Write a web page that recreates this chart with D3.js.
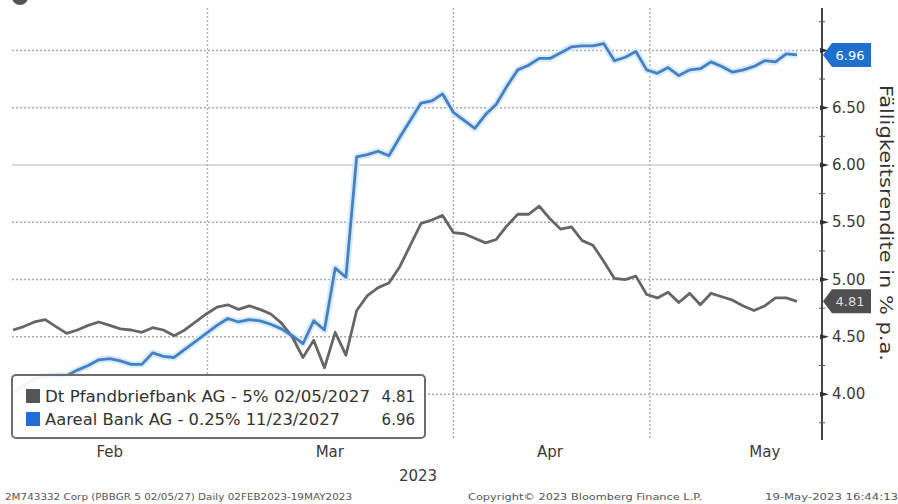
<!DOCTYPE html>
<html>
<head>
<meta charset="utf-8">
<script src="https://d3js.org/d3.v7.min.js"></script>
<style>
  body { margin: 0; background: #fff; }
  svg { display: block; font-family: "DejaVu Sans", sans-serif; }
</style>
</head>
<body>
<svg id="chart"></svg>
<script>
// Daily yields, trading days 02 Feb 2023 - 19 May 2023
var pbbYield = [4.56, 4.59, 4.63, 4.65, 4.59, 4.53, 4.56, 4.60, 4.63, 4.60,
    4.57, 4.56, 4.54, 4.58, 4.56, 4.51, 4.56, 4.63, 4.70, 4.76,
    4.78, 4.74, 4.77, 4.74, 4.70, 4.62, 4.50, 4.32, 4.47, 4.23,
    4.54, 4.34, 4.73, 4.86, 4.93, 4.97, 5.11, 5.30, 5.49, 5.52,
    5.56, 5.41, 5.40, 5.36, 5.32, 5.35, 5.47, 5.57, 5.57, 5.64,
    5.53, 5.44, 5.46, 5.34, 5.30, 5.16, 5.01, 5.00, 5.03, 4.87,
    4.84, 4.89, 4.80, 4.88, 4.78, 4.88, 4.85, 4.82, 4.77, 4.73,
    4.77, 4.84, 4.84, 4.81];

var aarealYield = [4.01, 4.07, 4.14, 4.15, 4.16, 4.16, 4.21, 4.25, 4.30, 4.31,
    4.29, 4.26, 4.26, 4.36, 4.33, 4.32, 4.39, 4.46, 4.53, 4.60,
    4.66, 4.63, 4.65, 4.64, 4.61, 4.57, 4.51, 4.44, 4.64, 4.56,
    5.10, 5.02, 6.07, 6.09, 6.12, 6.08, 6.24, 6.39, 6.54, 6.56,
    6.62, 6.46, 6.39, 6.32, 6.44, 6.53, 6.69, 6.83, 6.87, 6.93,
    6.93, 6.98, 7.03, 7.04, 7.04, 7.06, 6.91, 6.94, 6.99, 6.83,
    6.80, 6.85, 6.78, 6.83, 6.84, 6.90, 6.86, 6.81, 6.83, 6.86,
    6.91, 6.90, 6.97, 6.96];

var seriesNames = ["Dt Pfandbriefbank AG  - 5% 02/05/2027", "Aareal Bank AG - 0.25% 11/23/2027"];
var lastValues = ["4.81", "6.96"];

var monthLabels = ["Feb", "Mar", "Apr", "May"];
var monthLabelPos = [9, 29.5, 50, 70];      // trading-day index
var monthBreaks = [18.1, 41, 59.3];          // trading-day index
var yGrid = [4.0, 4.5, 5.0, 5.5, 6.0, 6.5, 7.0];
var yLabels = [4.0, 4.5, 5.0, 5.5, 6.0, 6.5];
var yMinor = [3.75, 4.25, 4.75, 5.25, 5.75, 6.25, 6.75, 7.25];

var width = 898;
var height = 504;

var svg = d3.select("#chart").attr("width", width).attr("height", height);

var x = d3.scaleLinear().domain([0, pbbYield.length - 1]).range([13, 797]);
var y = d3.scaleLinear().domain([3.6, 7.37]).range([440, 8]);

var axisX = 822;

// top strip, cropped header
svg.append("circle").attr("cx", 20).attr("cy", -3).attr("r", 8).attr("fill", "#555");

// horizontal gridlines
svg.selectAll(".hgrid")
    .data(yGrid)
    .enter().append("line")
    .attr("class", "hgrid")
    .attr("x1", 12).attr("x2", axisX)
    .attr("y1", function (d) { return y(d); })
    .attr("y2", function (d) { return y(d); })
    .attr("stroke", "#aaaaaa")
    .attr("stroke-width", 1.5)
    .attr("stroke-dasharray", function (d) { return d === 6.0 ? null : "2,2"; })
    .attr("stroke-opacity", function (d) { return d === 6.0 ? 0.6 : 1; });

// vertical month gridlines
svg.selectAll(".vgrid")
    .data(monthBreaks)
    .enter().append("line")
    .attr("class", "vgrid")
    .attr("x1", function (d) { return x(d); })
    .attr("x2", function (d) { return x(d); })
    .attr("y1", 8).attr("y2", 438)
    .attr("stroke", "#b4b4b4")
    .attr("stroke-width", 1.5)
    .attr("stroke-dasharray", "2,2");

// lines
var line = d3.line()
    .x(function (d, i) { return x(i); })
    .y(function (d) { return y(d); });

svg.append("path").datum(aarealYield)
    .attr("d", line).attr("fill", "none")
    .attr("stroke", "#d6ebfb").attr("stroke-width", 7).attr("stroke-linejoin", "round");
svg.append("path").datum(pbbYield)
    .attr("d", line).attr("fill", "none")
    .attr("stroke", "#666666").attr("stroke-width", 2.8).attr("stroke-linejoin", "round");
svg.append("path").datum(aarealYield)
    .attr("d", line).attr("fill", "none")
    .attr("stroke", "#4680c2").attr("stroke-width", 2.8).attr("stroke-linejoin", "round");

// right axis
svg.append("line")
    .attr("x1", axisX).attr("x2", axisX).attr("y1", 8).attr("y2", 440)
    .attr("stroke", "#333").attr("stroke-width", 1.8);

svg.selectAll(".minor")
    .data(yMinor)
    .enter().append("line")
    .attr("x1", axisX - 3).attr("x2", axisX + 3)
    .attr("y1", function (d) { return y(d); })
    .attr("y2", function (d) { return y(d); })
    .attr("stroke", "#555").attr("stroke-width", 1);

svg.selectAll(".major")
    .data(yGrid)
    .enter().append("path")
    .attr("d", function (d) {
        var yy = y(d);
        return "M" + (axisX - 2) + "," + (yy - 2.5) + "L" + (axisX + 7) + "," + yy + "L" + (axisX - 2) + "," + (yy + 2.5) + "Z";
    })
    .attr("fill", "#333");

svg.selectAll(".ylab")
    .data(yLabels)
    .enter().append("text")
    .attr("x", 832)
    .attr("y", function (d) { return y(d) + 5; })
    .attr("font-size", 15)
    .attr("fill", "#3a3a3a")
    .text(function (d) { return d.toFixed(2); });

svg.append("text")
    .attr("transform", "translate(880,223) rotate(90)")
    .attr("text-anchor", "middle")
    .attr("font-size", 17)
    .attr("fill", "#333")
    .attr("textLength", 276)
    .attr("lengthAdjust", "spacingAndGlyphs")
    .text("Fälligkeitsrendite in % p.a.");

// last value tags
var tagColors = ["#4f4f4f", "#1f6fcf"];
var tagValues = [pbbYield[pbbYield.length - 1], aarealYield[aarealYield.length - 1]];
tagValues.forEach(function (v, i) {
    var yy = y(v);
    svg.append("path")
        .attr("d", "M" + (axisX + 1) + "," + yy + "L" + (axisX + 10) + "," + (yy - 12) + "L" + 871 + "," + (yy - 12) +
            "L" + 871 + "," + (yy + 12) + "L" + (axisX + 10) + "," + (yy + 12) + "Z")
        .attr("fill", tagColors[i]);
    svg.append("text")
        .attr("x", 850).attr("y", yy + 5)
        .attr("text-anchor", "middle")
        .attr("font-size", 13)
        .attr("fill", i === 0 ? "#dddddd" : "#ffffff")
        .text(lastValues[i]);
});

// month labels
svg.selectAll(".mlab")
    .data(monthLabels)
    .enter().append("text")
    .attr("x", function (d, i) { return x(monthLabelPos[i]); })
    .attr("y", 457)
    .attr("text-anchor", "middle")
    .attr("font-size", 15)
    .attr("fill", "#3a3a3a")
    .text(function (d) { return d; });

svg.append("text")
    .attr("x", 418).attr("y", 481)
    .attr("text-anchor", "middle")
    .attr("font-size", 15)
    .attr("fill", "#3a3a3a")
    .text("2023");

// legend
var legend = svg.append("g");
legend.append("rect")
    .attr("x", 12).attr("y", 375).attr("width", 413).attr("height", 63)
    .attr("rx", 4)
    .attr("fill", "#ffffff").attr("fill-opacity", 0.92)
    .attr("stroke", "#6d6d6d").attr("stroke-width", 2);

var legendColors = ["#555555", "#1f6fd6"];
seriesNames.forEach(function (name, i) {
    var yy = 397 + i * 23;
    legend.append("rect")
        .attr("x", 26).attr("y", yy - 8).attr("width", 14).attr("height", 14)
        .attr("fill", legendColors[i]);
    legend.append("text")
        .attr("x", 45).attr("y", yy + 5)
        .attr("font-size", 15)
        .attr("fill", "#333")
        .attr("textLength", i === 0 ? 325 : 295)
        .attr("lengthAdjust", "spacingAndGlyphs")
        .text(name);
    legend.append("text")
        .attr("x", 415).attr("y", yy + 5)
        .attr("text-anchor", "end")
        .attr("font-size", 15)
        .attr("fill", "#333")
        .text(lastValues[i]);
});

// footer
var footer = [
    { text: "2M743332 Corp (PBBGR 5 02/05/27)  Daily 02FEB2023-19MAY2023", x: 5, len: 347 },
    { text: "Copyright© 2023 Bloomberg Finance L.P.", x: 468, len: 234 },
    { text: "19-May-2023 16:44:13", x: 765, len: 133 }
];
svg.selectAll(".foot")
    .data(footer)
    .enter().append("text")
    .attr("x", function (d) { return d.x; })
    .attr("y", 500)
    .attr("font-size", 9)
    .attr("fill", "#555")
    .attr("textLength", function (d) { return d.len; })
    .attr("lengthAdjust", "spacingAndGlyphs")
    .text(function (d) { return d.text; });
</script>
</body>
</html>
